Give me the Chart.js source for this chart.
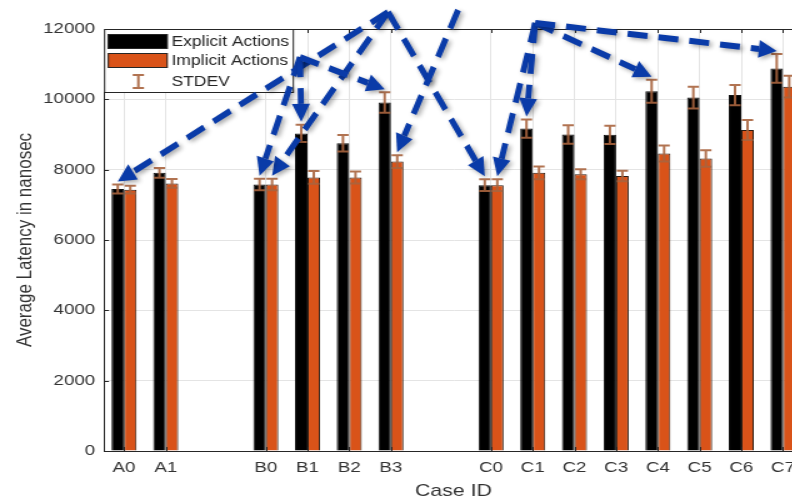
<!DOCTYPE html>
<html>
<head>
<meta charset="utf-8">
<script src="https://cdn.jsdelivr.net/npm/chart.js@4/dist/chart.umd.min.js"></script>
<style>
	html, body { margin: 0; padding: 0; background: #fff; overflow: hidden; }
	#chart { transform: scaleX(1.25); transform-origin: 0 0; }
</style>
</head>
<body>
<canvas id="chart" width="648" height="500"></canvas>
<script>
// the original figure was stretched sideways, so the canvas is too
const STRETCH = 1.25
const GROUP_GAP = 1.4

const caseIds = ['A0', 'A1', 'B0', 'B1', 'B2', 'B3', 'C0', 'C1', 'C2', 'C3', 'C4', 'C5', 'C6', 'C7']
const explicitLatency = [7450, 7910, 7580, 9030, 8750, 9910, 7560, 9170, 9000, 8990, 10230, 10050, 10120, 10880]
const implicitLatency = [7430, 7610, 7580, 7780, 7780, 8230, 7560, 7910, 7870, 7820, 8460, 8320, 9130, 10360]
const explicitStdev = [130, 140, 165, 245, 235, 290, 170, 260, 260, 260, 330, 310, 285, 410]
const implicitStdev = [110, 125, 165, 180, 170, 180, 170, 180, 140, 150, 230, 235, 285, 310]
const yTicks = [0, 2000, 4000, 6000, 8000, 10000, 12000]

// arrow sources in data units (x position, latency)
const arrowSources = {
	o1: [7.33, 12480],
	o2: [5.22, 11200],
	o3: [9.01, 12540],
	o4: [10.86, 12170],
}
// [source, case, series]
const arrows = [
	['o1', 'A0', 0], ['o1', 'B0', 1], ['o1', 'C0', 0],
	['o2', 'B0', 0], ['o2', 'B1', 0], ['o2', 'B3', 0],
	['o3', 'B3', 1],
	['o4', 'C0', 1], ['o4', 'C1', 0], ['o4', 'C4', 0], ['o4', 'C7', 0],
]

const seriesValues = [explicitLatency, implicitLatency]
const seriesStdev = [explicitStdev, implicitStdev]

// x position of each case, with a gap between the A, B and C groups
const positions = Array()
let pos = 0
caseIds.forEach((id, i) => {
	pos += 1
	if (i > 0 && id[0] !== caseIds[i - 1][0]) pos += GROUP_GAP
	positions.push(pos)
})

const ERR_COLOR = 'rgba(168, 100, 62, 0.9)'
const AXIS_COLOR = '#262626'

const errorBars = {
	id: 'errorBars',
	afterDatasetsDraw(chart) {
		const ctx = chart.ctx
		const y = chart.scales.y
		ctx.save()
		ctx.strokeStyle = ERR_COLOR
		ctx.lineWidth = 2
		seriesValues.forEach((values, s) => {
			chart.getDatasetMeta(s).data.forEach((bar, i) => {
				const top = y.getPixelForValue(values[i] + seriesStdev[s][i])
				const bottom = y.getPixelForValue(values[i] - seriesStdev[s][i])
				const cap = 4.5
				ctx.beginPath()
				ctx.moveTo(bar.x, top)
				ctx.lineTo(bar.x, bottom)
				ctx.moveTo(bar.x - cap, top)
				ctx.lineTo(bar.x + cap, top)
				ctx.moveTo(bar.x - cap, bottom)
				ctx.lineTo(bar.x + cap, bottom)
				ctx.stroke()
			})
		})
		ctx.restore()
	},
}

const frame = {
	id: 'frame',
	afterDatasetsDraw(chart) {
		const ctx = chart.ctx
		const a = chart.chartArea
		ctx.save()
		ctx.strokeStyle = AXIS_COLOR
		ctx.lineWidth = 1
		ctx.beginPath()
		ctx.moveTo(a.left, a.top + 0.5)
		ctx.lineTo(a.right, a.top + 0.5)
		ctx.moveTo(a.left, a.bottom + 0.5)
		ctx.lineTo(a.right, a.bottom + 0.5)
		chart.scales.x.ticks.forEach((t) => {
			const px = Math.round(chart.scales.x.getPixelForValue(t.value)) + 0.5
			ctx.moveTo(px, a.top)
			ctx.lineTo(px, a.top + 4)
			ctx.moveTo(px, a.bottom)
			ctx.lineTo(px, a.bottom - 4)
		})
		chart.scales.y.ticks.forEach((t) => {
			const py = Math.round(chart.scales.y.getPixelForValue(t.value)) + 0.5
			ctx.moveTo(a.left, py)
			ctx.lineTo(a.left + 4, py)
		})
		ctx.stroke()

		// legend box in the upper left corner
		const lx = a.left
		const ly = a.top
		ctx.fillStyle = '#fff'
		ctx.fillRect(lx, ly, 151, 63)
		ctx.strokeRect(lx + 0.5, ly + 0.5, 151, 63)
		ctx.fillStyle = '#000'
		ctx.fillRect(lx + 3, ly + 5, 48, 15)
		ctx.strokeRect(lx + 3.5, ly + 5.5, 47, 14)
		ctx.fillStyle = '#D95319'
		ctx.fillRect(lx + 3, ly + 24, 48, 15)
		ctx.strokeRect(lx + 3.5, ly + 24.5, 47, 14)
		ctx.strokeStyle = ERR_COLOR
		ctx.lineWidth = 2
		ctx.beginPath()
		ctx.moveTo(lx + 27.5, ly + 46)
		ctx.lineTo(lx + 27.5, ly + 59)
		ctx.moveTo(lx + 23, ly + 46)
		ctx.lineTo(lx + 32, ly + 46)
		ctx.moveTo(lx + 23, ly + 59)
		ctx.lineTo(lx + 32, ly + 59)
		ctx.stroke()
		ctx.fillStyle = AXIS_COLOR
		ctx.font = '14px "Liberation Sans", Arial, sans-serif'
		ctx.textBaseline = 'middle'
		ctx.fillText('Explicit Actions', lx + 54, ly + 13)
		ctx.fillText('Implicit Actions', lx + 54, ly + 32)
		ctx.fillText('STDEV', lx + 54, ly + 53)
		ctx.restore()
	},
}

const pointers = {
	id: 'pointers',
	afterDraw(chart) {
		const ctx = chart.ctx
		const x = chart.scales.x
		const y = chart.scales.y
		ctx.save()
		// undo the stretch so arrowheads keep their shape
		ctx.scale(1 / STRETCH, 1)
		ctx.strokeStyle = '#0A3BA8'
		ctx.fillStyle = '#0A3BA8'
		ctx.lineWidth = 6
		ctx.shadowColor = 'rgba(0, 0, 0, 0.35)'
		ctx.shadowBlur = 4
		ctx.shadowOffsetX = 2
		ctx.shadowOffsetY = 2
		arrows.forEach(([src, id, s]) => {
			const i = caseIds.indexOf(id)
			const bar = chart.getDatasetMeta(s).data[i]
			const x1 = x.getPixelForValue(arrowSources[src][0]) * STRETCH
			const y1 = y.getPixelForValue(arrowSources[src][1])
			const x2 = bar.x * STRETCH
			const y2 = y.getPixelForValue(seriesValues[s][i] + seriesStdev[s][i]) - 3
			const ang = Math.atan2(y2 - y1, x2 - x1)
			const head = 18
			const half = 9
			const bx = x2 - head * Math.cos(ang)
			const by = y2 - head * Math.sin(ang)
			ctx.setLineDash([20, 11])
			ctx.beginPath()
			ctx.moveTo(x1, y1)
			ctx.lineTo(bx, by)
			ctx.stroke()
			ctx.setLineDash([])
			ctx.beginPath()
			ctx.moveTo(x2, y2)
			ctx.lineTo(bx + half * Math.sin(ang), by - half * Math.cos(ang))
			ctx.lineTo(bx - half * Math.sin(ang), by + half * Math.cos(ang))
			ctx.closePath()
			ctx.fill()
		})
		ctx.restore()
	},
}

Chart.defaults.font.family = '"Liberation Sans", Arial, sans-serif'
Chart.defaults.color = '#333'

const ctx = document.getElementById('chart').getContext('2d')
new Chart(ctx, {
	type: 'bar',
	data: {
		datasets: [
			{
				label: 'Explicit Actions',
				data: explicitLatency.map((v, i) => ({ x: positions[i], y: v })),
				backgroundColor: '#000',
				borderColor: '#111',
				borderWidth: 1,
				categoryPercentage: 0.6,
				barPercentage: 1,
			},
			{
				label: 'Implicit Actions',
				data: implicitLatency.map((v, i) => ({ x: positions[i], y: v })),
				backgroundColor: '#D95319',
				borderColor: '#2a1a10',
				borderWidth: 1,
				categoryPercentage: 0.6,
				barPercentage: 1,
			},
		],
	},
	options: {
		responsive: false,
		animation: false,
		layout: { padding: { top: 29, right: 5.6, left: 0, bottom: 0 } },
		plugins: {
			legend: { display: false },
			tooltip: { enabled: false },
		},
		scales: {
			x: {
				type: 'linear',
				min: positions[0] - 0.48,
				max: positions[positions.length - 1] + 0.48,
				offset: false,
				grid: { offset: false, color: '#e4e4e4', drawTicks: false },
				border: { color: AXIS_COLOR },
				ticks: {
					autoSkip: false,
					maxRotation: 0,
					padding: 8,
					color: '#333',
					font: { size: 15 },
					callback: (value, index) => caseIds[index],
				},
				afterBuildTicks(scale) {
					scale.ticks = positions.map((v) => ({ value: v }))
				},
				title: {
					display: true,
					text: 'Case ID',
					color: '#333',
					font: { size: 17, lineHeight: 1 },
					padding: { top: 0, bottom: 0 },
				},
				afterFit(scale) {
					scale.height = 49
				},
			},
			y: {
				min: 0,
				max: 12000,
				grid: { color: '#e4e4e4', drawTicks: false },
				border: { color: AXIS_COLOR },
				ticks: {
					padding: 7,
					color: '#333',
					font: { size: 15 },
					callback: (value) => String(value),
				},
				afterBuildTicks(scale) {
					scale.ticks = yTicks.map((v) => ({ value: v }))
				},
				title: {
					display: true,
					text: 'Average Latency in nanosec',
					color: '#333',
					font: { size: 17 },
					padding: { top: 10, bottom: 0 },
				},
				afterFit(scale) {
					scale.width = 83.2
				},
			},
		},
	},
	plugins: [errorBars, frame, pointers],
})
</script>
</body>
</html>
